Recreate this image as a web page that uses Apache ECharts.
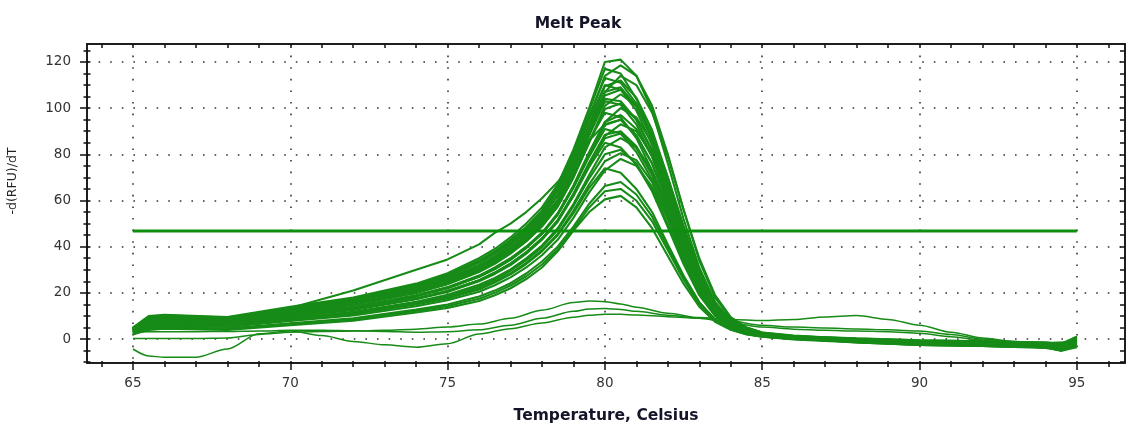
<!DOCTYPE html>
<html><head><meta charset="utf-8">
<script src="https://cdn.jsdelivr.net/npm/echarts@6/dist/echarts.min.js"></script>
<style>html,body{margin:0;padding:0;background:#fff}#c{width:1127px;height:429px}</style>
</head><body><div id="c"></div>
<script>
// ---------- DATA ----------
const titleText = 'Melt Peak';
const xName = 'Temperature, Celsius';
const yName = '-d(RFU)/dT';
const xMin = 63.54, xMax = 96.53, yMin = -10.36, yMax = 127.77;
const xMajorTicks = [65, 70, 75, 80, 85, 90, 95];
const xMinorTicks = [64,65,66,67,68,69,70,71,72,73,74,75,76,77,78,79,80,81,82,83,84,85,86,87,88,89,90,91,92,93,94,95,96];
const yMajorTicks = [0, 20, 40, 60, 80, 100, 120];
const yMinorTicks = [-10,-5,0,5,10,15,20,25,30,35,40,45,50,55,60,65,70,75,80,85,90,95,100,105,110,115,120,125];

const temps = [65, 65.5, 66, 68, 70, 72, 74, 75, 76, 76.5, 77, 77.5, 78, 78.5, 79, 79.5, 80, 80.5, 81, 81.5, 82, 82.5, 83, 83.5, 84, 84.5, 85, 86, 88, 90, 92, 94, 94.5, 95];
const c1  = [5, 10, 10.5, 9.5, 14, 18, 24, 28.5, 35, 39, 44, 50, 57, 67, 82, 100, 120, 121, 114, 99, 76, 52, 31, 16, 8, 4.5, 2.5, 1, -0.5, -1.5, -2, -2.5, -3, -1];
const c2  = [4.5, 9.5, 10, 9, 13.4, 17.3, 23, 27.5, 33.7, 37.6, 42.5, 48.3, 55.5, 66, 81, 99, 117, 115, 104, 88, 68, 46, 27, 14, 7, 4, 2.2, 0.5, -1, -2, -2.5, -3, -3.5, -0.5];
const c3  = [4, 9, 9.5, 8.5, 12.5, 16, 21.5, 25.5, 31, 35, 39.5, 45, 51.5, 60, 73, 90, 107, 114, 110, 98, 79, 56, 35, 19, 9.5, 5, 2.8, 1.5, 0, -1, -1.5, -2, -2.5, 0.5];
const c4  = [4.5, 9, 9.6, 8.7, 12.8, 16.5, 22, 26.3, 32, 36, 40.7, 46.4, 53, 62.5, 76.5, 93, 109.5, 112, 104.5, 90.5, 70, 48, 28.5, 14.7, 7.4, 4.1, 2.3, 0.8, -0.8, -1.8, -2.2, -2.8, -3.5, -1.5];
const c5  = [3.5, 8.5, 9.4, 8.5, 12.5, 16.5, 22.5, 27, 33, 37, 41.5, 47, 54, 64, 78, 95, 110, 108, 99, 84, 64, 43, 25, 13, 6.5, 3.5, 2, 0.5, -1.5, -2.5, -3, -3.5, -4.5, -2.5];
const c6  = [4.3, 8.7, 9.2, 8.3, 12.2, 15.8, 21.3, 25.2, 31, 34.6, 39.2, 44.7, 51.3, 60.4, 74, 90, 105.5, 108, 100.7, 87, 67, 46, 27.3, 14, 7, 4, 2.2, 1.2, 0.2, -0.5, -1, -1.5, -2, 0];
const c7  = [3.8, 8, 8.8, 8, 11.5, 15, 20, 24, 29.5, 33, 37.5, 42.5, 49, 57.5, 70, 85, 101, 106, 101, 89, 70, 49, 30, 16, 8, 4.5, 2.5, 1, -0.5, -1.5, -2, -2.5, -3, -1];
const c8  = [4.8, 9.5, 10.2, 9, 12.5, 16, 21.5, 25.5, 31, 34.5, 39, 44.5, 51, 60, 73, 89, 104, 103, 95, 81, 62, 42, 25, 13, 6.5, 3.5, 2, 0.5, -1, -2, -3, -3.5, -5, -3];
const c9  = [4, 8.1, 8.6, 7.7, 11.4, 14.8, 20, 23.7, 29, 32.6, 37, 42.3, 48.7, 57.4, 70, 85.3, 99.6, 102, 95, 82, 63, 43, 25.6, 13.3, 6.7, 3.7, 2, 0.8, -0.3, -1.2, -1.8, -2.5, -3, -0.5];
const c10 = [3.2, 7.5, 8, 7.2, 10.5, 13.8, 18.5, 22, 27, 30.5, 34.5, 39.5, 45.5, 54, 66, 80, 94, 100, 96, 85, 67, 47, 29, 15.5, 8, 4.5, 2.5, 1, -0.5, -1.5, -2, -3, -3.5, -1.5];
const c11 = [4.5, 9, 9.5, 8.5, 12, 15.5, 21, 25, 30.5, 34, 38.5, 43.5, 50, 58.5, 71, 86, 98, 96, 87, 73, 55, 37, 22, 11, 5.5, 3, 1.5, 0.3, -1, -2, -2.5, -3.5, -4.5, -2];
const c12 = [3.7, 7.4, 7.9, 7.1, 10.5, 13.6, 18.5, 22, 27, 30.2, 34.3, 39.4, 45.6, 53.8, 65.7, 79.8, 92.7, 95, 88.4, 76, 58.4, 39.7, 23.5, 12.3, 6.2, 3.4, 1.8, 0.5, -0.8, -1.6, -2, -2.8, -3.5, -1];
const c13 = [3, 6.8, 7.3, 6.6, 9.8, 12.8, 17.5, 20.8, 25.5, 28.8, 32.8, 37.5, 43.5, 51, 62.5, 76, 88, 93, 90, 80, 63, 44, 27, 14, 7, 4, 2.2, 1.2, 0.3, -0.5, -1, -1.5, -2, 1];
const c14 = [4, 7.8, 8.4, 7.5, 10.8, 14, 19, 22.5, 27.5, 31, 35, 40, 46, 54, 65.5, 79, 91, 89, 81, 69, 52, 35, 20.5, 10.5, 5.3, 2.8, 1.4, 0.2, -1.2, -2.2, -2.8, -3.5, -4, -2.5];
const c15 = [3.4, 6.8, 7.3, 6.5, 9.7, 12.6, 17.3, 20.4, 25, 28.2, 32, 37, 43, 50.8, 62, 75.2, 87, 89, 82.8, 71, 54.4, 37, 21.8, 11.4, 5.8, 3.2, 1.7, 0.6, -0.6, -1.4, -2, -2.4, -3, 0];
const c16 = [2.8, 6, 6.5, 6, 9, 11.8, 16.2, 19.2, 23.5, 26.5, 30.2, 35, 40.5, 48, 58.5, 71, 83, 87, 83, 73, 57, 39.5, 24, 12.5, 6.5, 3.5, 1.9, 0.8, -0.2, -1, -1.5, -2, -2.5, 0.5];
const c17 = [3.6, 7.2, 7.6, 6.8, 9.8, 12.8, 17.5, 20.8, 25.3, 28.5, 32.5, 37.5, 43.5, 51.5, 62, 74.5, 85, 83, 75.5, 64, 48.5, 32.5, 19, 10, 5, 2.7, 1.3, 0, -1.2, -2.5, -3, -3.8, -4.8, -3];
const c18 = [3, 6, 6.5, 5.9, 8.7, 11.4, 15.8, 18.6, 22.8, 25.8, 29.5, 34.2, 39.8, 47.2, 57.6, 69.6, 80, 82, 76, 65, 49.6, 33.5, 19.8, 10.4, 5.4, 2.9, 1.5, 0.4, -0.8, -1.8, -2.3, -2.8, -3.8, -1.5];
const c19 = [2.5, 5.2, 5.7, 5.2, 7.8, 10.2, 14.2, 16.8, 20.5, 23.3, 26.7, 31, 36.3, 43, 52.5, 63.5, 73, 78, 75, 66, 52, 36, 22, 11.5, 6, 3.2, 1.8, 0.8, -0.2, -1, -1.5, -2.2, -3, 0];
const c20 = [3, 5.8, 6.2, 5.6, 8.2, 10.8, 15, 17.6, 21.5, 24.5, 28, 32.5, 38, 45, 54.5, 65.5, 74, 72, 65, 55, 41, 27.5, 16, 8.5, 4.3, 2.2, 1, -0.2, -1.5, -2.5, -3, -3.5, -5, -3.5];
const c21 = [2.3, 4.6, 5.1, 4.6, 6.8, 9, 12.8, 15, 18.4, 21, 24.2, 28.4, 33.6, 40, 48.7, 58.6, 66.3, 68, 62.6, 53, 40, 26.8, 15.7, 8.4, 4.4, 2.3, 1.2, 0.3, -0.8, -1.8, -2.3, -2.8, -4, -1.5];
const c22 = [2, 4, 4.5, 4, 6, 8, 11.5, 13.5, 16.5, 19, 22, 26, 31, 38, 47, 55, 60.5, 62, 57, 48, 36, 24, 14, 7.5, 4, 2, 1, 0, -1, -2, -2.5, -3, -4.5, -2];
const d1  = [4.7, 9.7, 10.3, 9.3, 13.6, 17.6, 23.5, 27.8, 34, 38, 43, 48.5, 55.5, 65, 79, 96, 114, 118.5, 114, 101, 80, 56, 34, 18, 9, 5, 2.8, 1.3, -0.2, -1, -1.5, -2, -2.5, -0.5];
const d2  = [4, 8.8, 9.3, 8.4, 12.3, 16.2, 21.8, 26, 32, 35.8, 40.5, 46, 52.5, 62, 75.5, 92, 107, 109, 101, 86.5, 66, 45, 26.5, 13.5, 6.8, 3.8, 2.1, 0.6, -1.2, -2.2, -2.7, -3.2, -4, -2];
const d3  = [4.2, 8.4, 9, 8.1, 11.8, 15.3, 20.7, 24.5, 30, 33.6, 38, 43.4, 50, 59, 72, 88, 103, 101.5, 93, 79, 60, 40.5, 24, 12.4, 6.2, 3.4, 1.9, 0.6, -0.8, -1.7, -2.3, -3, -4, -2];
const d4  = [3.8, 7.6, 8.1, 7.3, 10.7, 13.9, 18.8, 22.3, 27.3, 30.7, 34.8, 39.9, 46, 54.5, 66.5, 81, 94, 97, 91, 79, 61, 41.5, 24.5, 12.8, 6.5, 3.6, 2, 0.9, -0.2, -1.1, -1.6, -2.2, -2.8, -0.5];
const d5  = [3.5, 7, 7.5, 6.7, 9.9, 12.9, 17.6, 20.8, 25.5, 28.7, 32.6, 37.6, 43.6, 51.5, 63, 76.5, 88.5, 90, 83.5, 71.5, 55, 37.5, 22, 11.5, 5.9, 3.2, 1.7, 0.5, -0.9, -1.9, -2.4, -3, -3.8, -1.8];
const d6  = [2.7, 5.6, 6.1, 5.6, 8.3, 11, 15.3, 18, 22, 25, 28.5, 33, 38.5, 45.5, 55.5, 67, 77, 80.5, 77.5, 68, 53, 37, 22.5, 12, 6.2, 3.4, 1.9, 0.9, -0.1, -0.8, -1.3, -1.8, -2.3, 1];
const d7  = [2.2, 4.4, 4.9, 4.4, 6.5, 8.6, 12.2, 14.3, 17.5, 20, 23.2, 27.2, 32.3, 38.8, 47.5, 57, 64, 65, 60, 51, 38.5, 25.8, 15, 8, 4.2, 2.2, 1.1, 0.1, -0.9, -1.9, -2.4, -3, -4.2, -2.5];
const d8  = [4.6, 9.3, 9.9, 8.9, 13.2, 17, 22.8, 27.2, 33.5, 37.5, 42.3, 48, 55, 65, 79.5, 97, 113, 111, 102, 86, 65, 44, 26, 13.5, 6.8, 3.7, 2, 0.6, -1, -2, -2.6, -3.2, -4.2, -2.2];
const early = [4.5, 9, 9.5, 9, 13.5, 21, 30, 34.5, 41, 46, 50, 55, 61, 68, 77, 86, 93, 95, 88, 76, 59, 41, 25, 13, 6.5, 3.5, 2, 0.8, -0.5, -1.5, -2, -2.5, -3.5, -1];

const lowTemps = [65, 65.5, 66, 67, 68, 69, 70, 71, 72, 73, 74, 75, 76, 77, 78, 79, 79.5, 80, 80.5, 81, 82, 83, 84, 85, 86, 87, 88, 89, 90, 91, 92, 93, 94, 95];
const low1 = [0.3, 0.3, 0.3, 0.3, 0.5, 2, 3, 3.3, 3.5, 3.8, 4.3, 5.2, 6.5, 9, 12.5, 15.8, 16.5, 16.2, 15.2, 13.8, 11.2, 9.3, 8.5, 8, 8.5, 9.6, 10.2, 8.5, 6, 3, 0.5, -1, -1.5, -1];
const low2 = [3, 3.2, 3.2, 3.2, 3.3, 3.5, 3.8, 3.8, 3.6, 3.3, 3, 3.2, 4, 6, 9, 12, 13, 13.2, 12.8, 12, 10.3, 9, 7.8, 6, 5.2, 4.8, 4.4, 4, 3.5, 2, 0, -1.5, -2, -1.5];
const low3 = [-4.3, -7.3, -7.9, -7.9, -4.3, 2.3, 3.5, 1.5, -1, -2.5, -3.5, -2, 2.2, 4.5, 7, 9.5, 10.3, 10.8, 10.7, 10.4, 9.7, 9, 7, 5.2, 4.3, 3.8, 3.5, 3.2, 2.5, 1, -0.5, -2, -2.5, -2];

const thresholdX = [65, 95];
const thresholdValue = 46.8;

const mainCurves = [c1,d1,c2,c3,d8,c4,c5,c6,d2,c7,c8,d3,c9,c10,c11,d4,c12,c13,c14,d5,c15,c16,c17,c18,d6,c19,c20,c21,d7,c22,early];
const lowCurves = [low1, low2, low3];

// ---------- CHART ----------
const FONT = 'DejaVu Sans';
const LINE_COLOR = '#178b17';
const zip = (xs, ys) => xs.map((x, i) => [x, ys[i]]);

const series = [];
mainCurves.forEach(v => series.push({
  type: 'line', data: zip(temps, v), showSymbol: false, smooth: false,
  lineStyle: { color: LINE_COLOR, width: 2.1 }, silent: true, z: 3
}));
lowCurves.forEach(v => series.push({
  type: 'line', data: zip(lowTemps, v), showSymbol: false, smooth: 0.3, smoothMonotone: 'x',
  lineStyle: { color: LINE_COLOR, width: 1.5 }, silent: true, z: 3
}));
series.push({
  type: 'line', data: thresholdX.map(x => [x, thresholdValue]), showSymbol: false,
  lineStyle: { color: '#0c8f0c', width: 3 }, silent: true, z: 5
});

const axLine = { show: true, onZero: false, lineStyle: { color: '#111', width: 1.5 } };
const tickStyle = { color: '#111', width: 1.5 };
const none = { show: false };
const noLine = { show: false, onZero: false };

function xAxisBase(extra) {
  return Object.assign({ type: 'value', min: xMin, max: xMax, gridIndex: 0,
    axisLine: noLine, splitLine: none, axisLabel: none, axisTick: none }, extra);
}
function yAxisBase(extra) {
  return Object.assign({ type: 'value', min: yMin, max: yMax, gridIndex: 0,
    axisLine: noLine, splitLine: none, axisLabel: none, axisTick: none }, extra);
}
const dotted = { show: true, lineStyle: { color: '#333', width: 1.6, type: [1.6, 10] } };

const option = {
  animation: false,
  backgroundColor: '#fff',
  title: { text: titleText, left: 573, top: 11, textAlign: 'center',
    textStyle: { fontFamily: FONT, fontWeight: 'bold', fontSize: 15.5, color: '#15152a' } },
  grid: { left: 87, right: 2, top: 44, bottom: 65, show: true, borderColor: '#111', borderWidth: 1.5, backgroundColor: '#fff' },
  xAxis: [
    xAxisBase({ position: 'bottom', axisLine: axLine,
      axisTick: { show: true, customValues: xMajorTicks, length: 7, lineStyle: tickStyle },
      axisLabel: { show: true, customValues: xMajorTicks, margin: 13, color: '#333', fontFamily: FONT, fontSize: 13.5 },
      splitLine: dotted,
      name: xName, nameLocation: 'middle', nameGap: 45,
      nameTextStyle: { fontFamily: FONT, fontWeight: 'bold', fontSize: 15.5, color: '#15152a' } }),
    xAxisBase({ position: 'bottom', axisTick: { show: true, customValues: xMinorTicks, length: 4, lineStyle: tickStyle } }),
    xAxisBase({ position: 'bottom', axisTick: { show: true, inside: true, customValues: xMinorTicks, length: 2, lineStyle: tickStyle } }),
    xAxisBase({ position: 'top', axisLine: axLine, axisTick: { show: true, inside: true, customValues: xMinorTicks, length: 4, lineStyle: tickStyle } })
  ],
  yAxis: [
    yAxisBase({ position: 'left', axisLine: axLine,
      axisTick: { show: true, customValues: yMajorTicks, length: 7, lineStyle: tickStyle },
      axisLabel: { show: true, customValues: yMajorTicks, margin: 16, color: '#333', fontFamily: FONT, fontSize: 13.5 },
      splitLine: dotted }),
    yAxisBase({ position: 'left', axisTick: { show: true, customValues: yMinorTicks, length: 3.5, lineStyle: tickStyle } }),
    yAxisBase({ position: 'left', axisTick: { show: true, inside: true, customValues: yMinorTicks, length: 3.5, lineStyle: tickStyle } }),
    yAxisBase({ position: 'right', axisLine: axLine, axisTick: { show: true, inside: true, customValues: yMinorTicks, length: 5, lineStyle: tickStyle } })
  ],
  graphic: [{
    type: 'text', x: 13, y: 181, rotation: Math.PI / 2,
    style: { text: yName, fill: '#222', font: '12.5px "DejaVu Sans"', textAlign: 'center', textVerticalAlign: 'middle' }
  }],
  series: series
};
const chart = echarts.init(document.getElementById('c'), null, { renderer: 'canvas' });
chart.setOption(option);
</script>
</body></html>
